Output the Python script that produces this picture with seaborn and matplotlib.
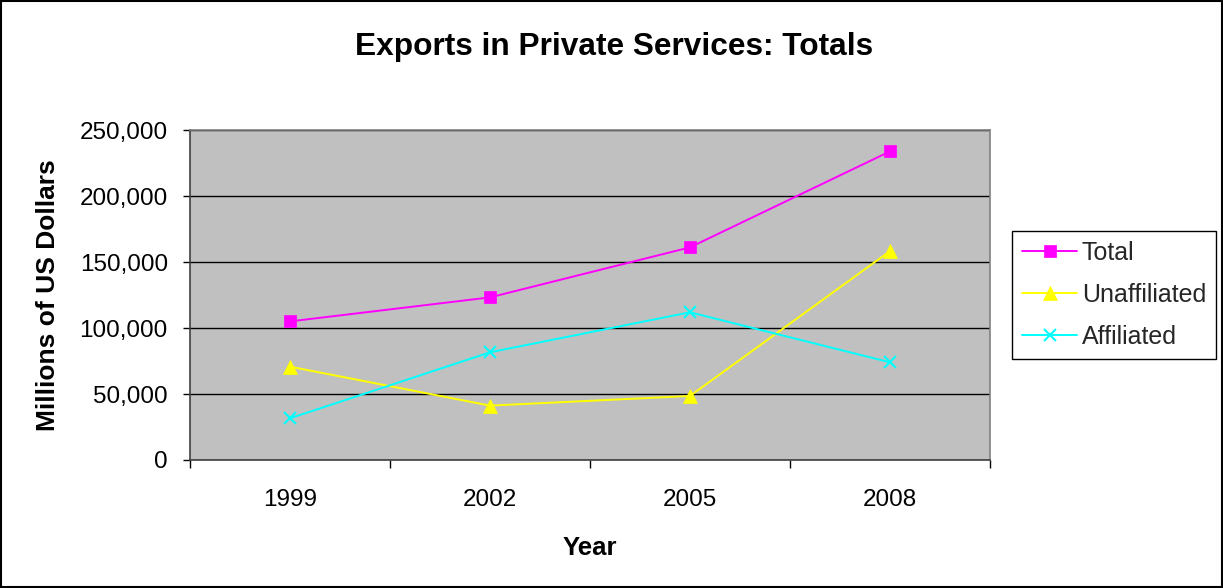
import matplotlib
matplotlib.use("Agg")
import matplotlib.pyplot as plt
import seaborn as sns
import pandas as pd
from matplotlib.ticker import FixedLocator, FuncFormatter, NullFormatter
from matplotlib.patches import Rectangle

years = ["1999", "2002", "2005", "2008"]
total = [105000, 123200, 161100, 233800]
unaffiliated = [70700, 41200, 48500, 158300]
affiliated = [31600, 81600, 111900, 74000]

series_names = ["Total", "Unaffiliated", "Affiliated"]
series_values = [total, unaffiliated, affiliated]
colors = ["#FF00FF", "#FFFF00", "#00FFFF"]
markers = ["s", "^", "x"]
msizes = [8.5, 10, 9]

sns.set_theme(style="white")
plt.rcParams["font.family"] = ["Liberation Sans", "DejaVu Sans"]

fig = plt.figure(figsize=(12.23, 5.88), dpi=100)
ax = fig.add_axes([190/1223, 128/588, 800/1223, 330/588])
ax.set_facecolor("#C0C0C0")

rows = []
for name, vals in zip(series_names, series_values):
    for y, v in zip(years, vals):
        rows.append({"Year": y, "Value": v, "Series": name})
df = pd.DataFrame(rows)

for name, col, mk, ms in zip(series_names, colors, markers, msizes):
    sub = df[df["Series"] == name]
    sns.lineplot(data=sub, x="Year", y="Value", ax=ax, color=col, marker=mk,
                 markersize=ms, markeredgecolor=col, markeredgewidth=1.5 if mk == "x" else 0.5,
                 linewidth=1.4, label=name, sort=False, zorder=3)

ax.set_xlim(-0.5, len(years) - 0.5)
ax.set_ylim(0, 250000)
ax.yaxis.set_major_locator(FixedLocator([0, 50000, 100000, 150000, 200000, 250000]))
ax.yaxis.set_major_formatter(FuncFormatter(lambda v, p: f"{int(v):,}"))
ax.grid(axis="y", color="black", linewidth=1.0, zorder=1)
ax.set_axisbelow(True)

ax.xaxis.set_major_locator(FixedLocator([i - 0.5 for i in range(len(years) + 1)]))
ax.xaxis.set_major_formatter(NullFormatter())
ax.set_xticks(range(len(years)), minor=True)
ax.set_xticklabels(years, minor=True)
ax.tick_params(axis="x", which="major", direction="out", length=6, width=1, color="black", bottom=True)
ax.tick_params(axis="x", which="minor", length=0, labelsize=17.5, pad=21, colors="black")
ax.tick_params(axis="y", direction="out", length=5, width=1, color="black", left=True,
               labelsize=17.5, pad=11, labelcolor="black")

for side in ["left", "bottom"]:
    ax.spines[side].set_color("#404040")
    ax.spines[side].set_linewidth(1.2)
for side in ["top", "right"]:
    ax.spines[side].set_color("#808080")
    ax.spines[side].set_linewidth(1.2)

ax.set_xlabel("Year", fontsize=18.5, fontweight="bold", labelpad=18, color="black")
ax.set_ylabel("Millions of US Dollars", fontsize=19, fontweight="bold", labelpad=14, color="black")

fig.suptitle("Exports in Private Services: Totals", fontsize=22.8, fontweight="bold",
             x=614/1223, y=1 - 47/588, va="center", color="black")

leg = ax.legend(loc="center left", fontsize=18, frameon=True, fancybox=False,
                edgecolor="black", framealpha=1,
                handlelength=2.2, handletextpad=0.2, borderpad=0.4, labelspacing=0.72,
                borderaxespad=0)
leg.set_bbox_to_anchor((1012/1223, 1 - 295/588), transform=fig.transFigure)
leg.get_frame().set_linewidth(1.0)

fig.patches.append(Rectangle((0.001, 0.001), 0.998, 0.997, transform=fig.transFigure,
                             fill=False, edgecolor="black", linewidth=1.5))

fig.savefig("out.png", dpi=100, facecolor="white")
